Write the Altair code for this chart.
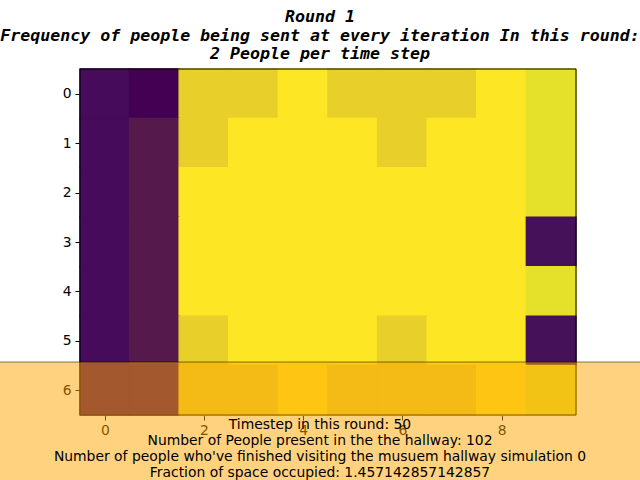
import altair as alt
import pandas as pd

col_ids = list(range(10))
row_ids = list(range(7))
# occupancy level per cell (row-major, rows 0..6, cols 0..9)
grid = [
    [1, 0, 8, 8, 10, 8, 8, 8, 10, 9],
    [1, 3, 8, 10, 10, 10, 8, 10, 10, 9],
    [1, 3, 10, 10, 10, 10, 10, 10, 10, 9],
    [1, 3, 10, 10, 10, 10, 10, 10, 10, 2],
    [1, 3, 10, 10, 10, 10, 10, 10, 10, 9],
    [1, 3, 8, 10, 10, 10, 8, 10, 10, 2],
    [1, 1, 8, 8, 10, 8, 8, 8, 10, 9],
]
level_domain = [0, 1, 2, 3, 8, 9, 10]
level_colors = ["#440154", "#460b5a", "#451159", "#551a4b", "#e8cf2a", "#e5e12a", "#fde725"]
x_ticks = [0, 2, 4, 6, 8]
y_ticks = [0, 1, 2, 3, 4, 5, 6]

title_text = "Round 1\nFrequency of people being sent at every iteration In this round:\n2 People per time step"
info_text = ("Timestep in this round: 50\n"
             "Number of People present in the the hallway: 102\n"
             "Number of people who've finished visiting the musuem hallway simulation 0\n"
             "Fraction of space occupied: 1.457142857142857")

recs = []
for r in row_ids:
    for c in col_ids:
        recs.append({"col": c, "row": r, "c0": c - 0.5, "c1": c + 0.5,
                     "r0": r - 0.5, "r1": r + 0.5, "v": grid[r][c]})
df = pd.DataFrame(recs)
one = pd.DataFrame({"k": [0]})

W, H = 496, 346
cscale = alt.Scale(domain=level_domain, range=level_colors)

heat = alt.Chart(df).mark_rect(strokeWidth=1.5, opacity=1, strokeOpacity=1, fillOpacity=1).encode(
    x=alt.X("c0:Q", scale=alt.Scale(domain=[-0.5, 9.5], nice=False, zero=False),
            axis=alt.Axis(values=x_ticks, title=None, grid=False, domain=False,
                          tickColor="black", tickSize=5, labelFontSize=13.9,
                          labelColor="black", labelPadding=3, labelFont="DejaVu Sans",
                          zindex=0)),
    x2="c1:Q",
    y=alt.Y("r0:Q", scale=alt.Scale(domain=[6.5, -0.5], nice=False, zero=False),
            axis=alt.Axis(values=y_ticks, title=None, grid=False, domain=False,
                          tickColor="black", tickSize=5, labelFontSize=13.9,
                          labelColor="black", labelPadding=4, labelFont="DejaVu Sans",
                          zindex=0)),
    y2="r1:Q",
    color=alt.Color("v:Q", scale=cscale, legend=None),
    stroke=alt.Stroke("v:Q", scale=cscale, legend=None),
)

border = alt.Chart(one).mark_rect(fillOpacity=0, stroke="black", strokeWidth=1).encode(
    x=alt.value(0), x2=alt.value(W), y=alt.value(0), y2=alt.value(H)
)

overlay = alt.Chart(one).mark_rect(fill="orange", fillOpacity=0.5, stroke="black",
                                   strokeOpacity=0.5, strokeWidth=1).encode(
    x=alt.value(-85), x2=alt.value(565), y=alt.value(293), y2=alt.value(425)
)

title = alt.Chart(one).mark_text(
    font="DejaVu Sans Mono", fontStyle="italic", fontWeight="bold", fontSize=16.6,
    lineBreak="\n", lineHeight=18.5, align="center", baseline="alphabetic", color="black"
).encode(x=alt.value(240), y=alt.value(-47), text=alt.value(title_text))

info = alt.Chart(one).mark_text(
    font="DejaVu Sans", fontSize=13.9, lineBreak="\n", lineHeight=16,
    align="center", baseline="alphabetic", color="black"
).encode(x=alt.value(240), y=alt.value(360), text=alt.value(info_text))

chart = alt.layer(heat, border, overlay, title, info).properties(
    width=W, height=H,
    autosize=alt.AutoSizeParams(type="none"),
    padding={"left": 80, "top": 69, "right": 64, "bottom": 65},
).configure_view(stroke=None)

chart.save("out.html", embed_options={"renderer": "svg", "actions": False})
